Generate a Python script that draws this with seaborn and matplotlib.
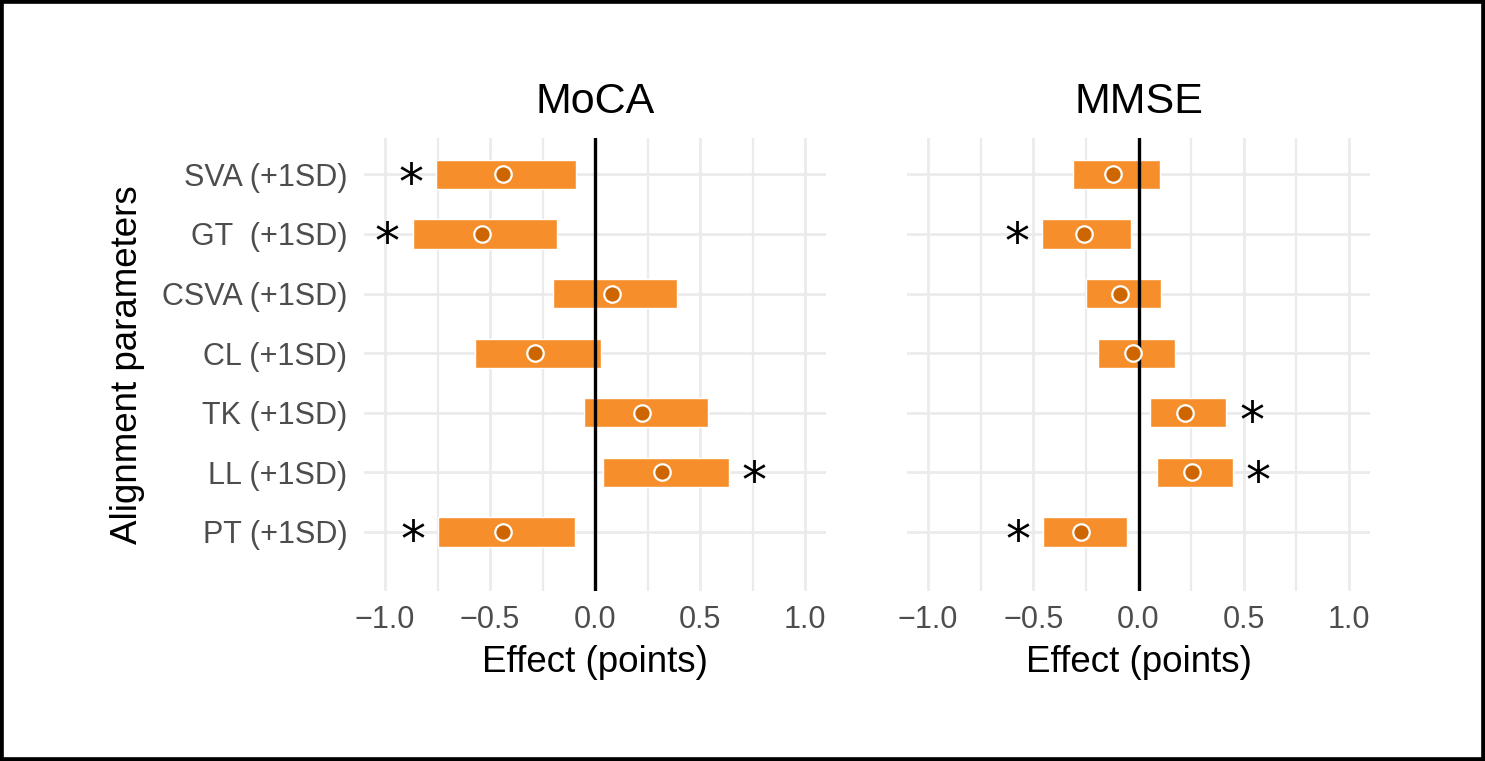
import matplotlib
matplotlib.use("Agg")
import matplotlib.pyplot as plt
import seaborn as sns
import pandas as pd
from matplotlib.patches import Rectangle
from matplotlib.ticker import MultipleLocator, FixedLocator

# ---------------- data ----------------
params = ["SVA (+1SD)", "GT  (+1SD)", "CSVA (+1SD)", "CL (+1SD)",
          "TK (+1SD)", "LL (+1SD)", "PT (+1SD)"]

moca_est = [-0.44, -0.54, 0.08, -0.285, 0.225, 0.318, -0.437]
moca_lo = [-0.757, -0.869, -0.198, -0.570, -0.054, 0.038, -0.749]
moca_hi = [-0.092, -0.181, 0.391, 0.030, 0.537, 0.637, -0.094]
moca_sig = [True, True, False, False, False, True, True]

mmse_est = [-0.119, -0.260, -0.087, -0.024, 0.222, 0.254, -0.273]
mmse_lo = [-0.311, -0.457, -0.251, -0.192, 0.057, 0.089, -0.454]
mmse_hi = [0.100, -0.038, 0.106, 0.173, 0.417, 0.450, -0.056]
mmse_sig = [False, True, False, False, True, True, True]

panels = ["MoCA", "MMSE"]
x_ticks = [-1.0, -0.5, 0.0, 0.5, 1.0]

# ---------------- style ----------------
sns.set_theme(style="white")
plt.rcParams["font.family"] = ["Liberation Sans", "DejaVu Sans"]

BAR = "#F68F2B"
PT_FILL = "#CD6600"
GRID = "#EBEBEB"
TICK_C = "#4D4D4D"

fig = plt.figure(figsize=(14.85, 7.61), dpi=100)
ax1 = fig.add_axes([364 / 1485, (761 - 591) / 761, 462 / 1485, 453 / 761])
ax2 = fig.add_axes([907 / 1485, (761 - 591) / 761, 463 / 1485, 453 / 761])

datasets = [
    (ax1, moca_est, moca_lo, moca_hi, moca_sig),
    (ax2, mmse_est, mmse_lo, mmse_hi, mmse_sig),
]

for i, (ax, est, lo, hi, sig) in enumerate(datasets):
    df = pd.DataFrame({"param": params, "pos": range(len(params)),
                       "est": est, "lo": lo, "hi": hi, "sig": sig})
    df["width"] = df["hi"] - df["lo"]

    ax.barh(df["pos"], df["width"], left=df["lo"], height=0.49,
            color=BAR, zorder=2)
    ax.axvline(0, color="black", lw=2.4, zorder=3)
    sns.scatterplot(data=df, x="est", y="pos", ax=ax, s=140, color=PT_FILL,
                    edgecolor="white", linewidth=1.6, zorder=4, legend=False)

    star_size = 36
    for _, r in df[df["sig"]].iterrows():
        if r["est"] < 0:
            sx = r["lo"] - 0.12
        else:
            sx = r["hi"] + 0.12
        ax.annotate("*", xy=(sx, r["pos"]), xytext=(0, -0.49 * star_size),
                    textcoords="offset points", ha="center", va="baseline",
                    fontsize=star_size, color="black", zorder=5,
                    family=["DejaVu Sans"])

    ax.set_xlim(-1.1, 1.1)
    ax.set_ylim(6.99, -0.61)
    ax.xaxis.set_major_locator(FixedLocator(x_ticks))
    ax.xaxis.set_minor_locator(MultipleLocator(0.25))
    ax.set_yticks(range(len(params)))
    if i == 0:
        ax.set_yticklabels(params)
        ax.set_ylabel("Alignment parameters", fontsize=26.5, color="black",
                      labelpad=12)
    else:
        ax.set_yticklabels([])
        ax.set_ylabel("")

    ax.grid(True, which="major", axis="both", color=GRID, lw=2.0, zorder=0)
    ax.grid(True, which="minor", axis="x", color=GRID, lw=1.6, zorder=0)
    ax.set_axisbelow(True)
    for s in ax.spines.values():
        s.set_visible(False)
    ax.tick_params(axis="both", which="both", length=0, labelsize=22,
                   labelcolor=TICK_C)
    ax.tick_params(axis="x", pad=10)
    ax.tick_params(axis="y", pad=12)
    ax.set_xlabel("Effect (points)", fontsize=26.5, color="black", labelpad=7)
    ax.set_title(panels[i], fontsize=31, color="black", pad=18)

fig.patches.append(Rectangle((0, 0), 1, 1, transform=fig.transFigure,
                             fill=False, edgecolor="black", lw=5.5,
                             zorder=10))

fig.savefig("out.png", dpi=100, facecolor="white")
